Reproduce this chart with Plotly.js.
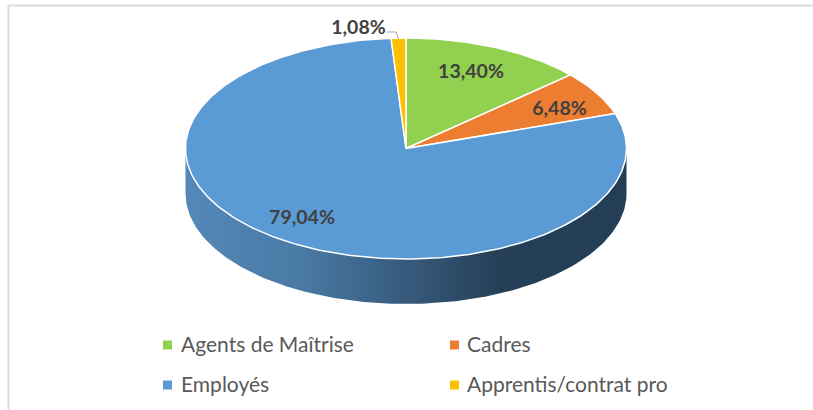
<!DOCTYPE html>
<html><head><meta charset="utf-8">
<script src="https://cdn.plot.ly/plotly-3.0.1.min.js"></script>
<style>html,body{margin:0;padding:0;background:#fff}#c{width:813px;height:410px}</style></head>
<body><div id="c"></div>
<script>
const categories = ["Agents de Maîtrise","Cadres","Employés","Apprentis/contrat pro"];
const values = [13.40,6.48,79.04,1.08];
const colors = ["#92D050","#ED7D31","#5B9BD5","#FFC000"];
const labelAnchors = [[471,73],[559.5,110],[302,219.5],[358.5,29.5]];
const legendSwatches = [[167.5,345],[454.5,345],[167.5,385],[454.5,385]];
const legendTextX = [179,465,179,465];
const legendTextY = [343.5,343.5,383.5,383.5];

const W=813,H=410,CX=406,CY=148.5,RX=220.5,RY=110.5,DEPTH=45;
const ux=p=>(p-CX)/RX, uy=p=>(CY-p)/RY;
const total=values.reduce((a,b)=>a+b,0);

const traces=[];
// side wall: front half of the disc, pushed down by the depth
const d=DEPTH/RY, wx=[], wy=[];
for(let a=90;a<=270;a+=1){const r=a*Math.PI/180;wx.push(Math.sin(r));wy.push(Math.cos(r));}
for(let a=270;a>=90;a-=1){const r=a*Math.PI/180;wx.push(Math.sin(r));wy.push(Math.cos(r)-d);}
traces.push({type:'scatter',mode:'lines',x:wx,y:wy,fill:'toself',line:{width:0,color:'rgba(0,0,0,0)'},
  fillgradient:{type:'horizontal',start:-1,stop:1,colorscale:[[0,'#5488B8'],[0.25,'#4A7BA6'],[0.5,'#375A7C'],[0.72,'#243F56'],[1,'#243E55']]},
  hoverinfo:'skip',showlegend:false});
// slices
let cum=0;
values.forEach((v,i)=>{
  const a0=cum/total*2*Math.PI; cum+=v; const a1=cum/total*2*Math.PI;
  const n=Math.max(4,Math.ceil((a1-a0)/(Math.PI/180)));
  const x=[0],y=[0];
  for(let k=0;k<=n;k++){const a=a0+(a1-a0)*k/n;x.push(Math.sin(a));y.push(Math.cos(a));}
  x.push(0);y.push(0);
  traces.push({type:'scatter',mode:'lines',x,y,fill:'toself',fillcolor:colors[i],
    line:{color:'#fff',width:1.5},name:categories[i],hoverinfo:'name',showlegend:false});
});
const fmt=v=>v.toFixed(2).replace('.',',')+'%';
// leader for the smallest slice
traces.push({type:'scatter',mode:'lines',x:[387,396,398.5].map(ux),y:[32,32,39].map(uy),
  line:{color:'#A6A6A6',width:1},hoverinfo:'skip',showlegend:false});
// data labels
traces.push({type:'scatter',mode:'text',x:labelAnchors.map(p=>ux(p[0])),y:labelAnchors.map(p=>uy(p[1])),
  text:values.map(fmt),textposition:'middle center',
  textfont:{family:'Lato, Carlito, sans-serif',size:19.5,color:'#404040',weight:700},hoverinfo:'skip',showlegend:false});
// legend keys
traces.push({type:'scatter',mode:'markers',x:legendSwatches.map(p=>ux(p[0])),y:legendSwatches.map(p=>uy(p[1])),
  marker:{symbol:'square',size:9,color:[colors[0],colors[1],colors[2],colors[3]],line:{width:0}},hoverinfo:'skip',showlegend:false});

const annotations=categories.map((c,i)=>({x:ux(legendTextX[i]),y:uy(legendTextY[i]),xref:'x',yref:'y',
  text:c,showarrow:false,xanchor:'left',yanchor:'middle',
  font:{family:'Lato, Carlito, sans-serif',size:21,color:'#595959'}}));

const layout={width:W,height:H,margin:{l:0,r:0,t:0,b:0},paper_bgcolor:'#fff',plot_bgcolor:'#fff',showlegend:false,
  xaxis:{range:[ux(0),ux(W)],visible:false,fixedrange:true},
  yaxis:{range:[uy(H),uy(0)],visible:false,fixedrange:true},
  annotations,
  shapes:[
   {type:'line',xref:'paper',yref:'paper',x0:8.5/W,x1:8.5/W,y0:0,y1:1-5/H,line:{color:'#DCDCDC',width:2}},
   {type:'line',xref:'paper',yref:'paper',x0:8/W,x1:1,y0:1-5.5/H,y1:1-5.5/H,line:{color:'#DCDCDC',width:2}}
  ]};
Plotly.newPlot('c',traces,layout,{displayModeBar:false,staticPlot:true});
</script></body></html>
